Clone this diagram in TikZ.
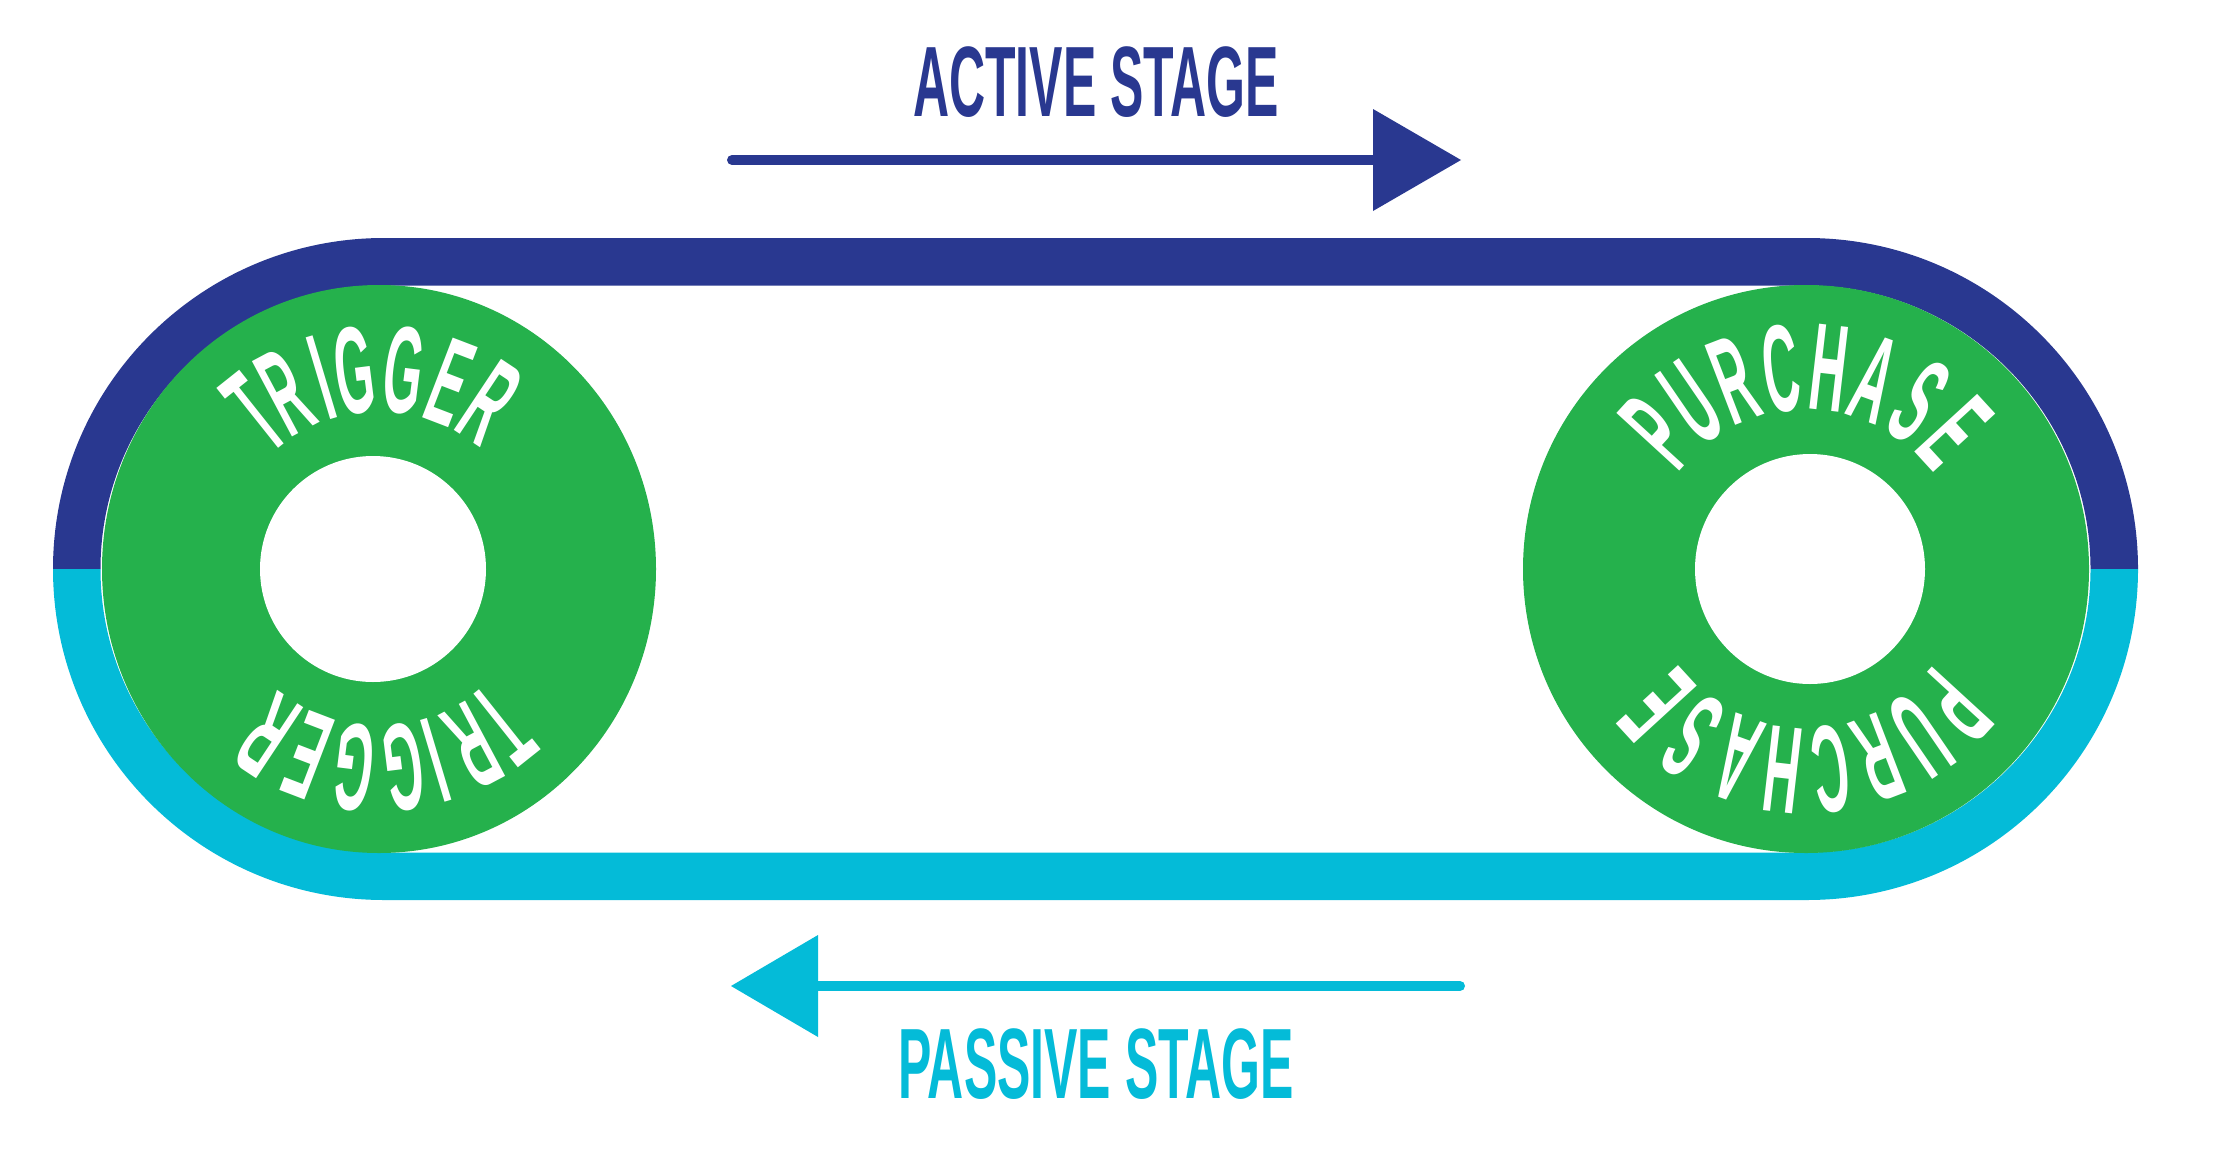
\documentclass[tikz,border=0pt]{standalone}
\usepackage{fontspec}
\usetikzlibrary{calc}
\newfontfamily\stagefont{Liberation Sans}[FakeStretch=0.5]
\newfontfamily\ringfont{Liberation Sans}[FakeStretch=0.4]
\definecolor{beltblue}{RGB}{41,56,144}
\definecolor{beltcyan}{RGB}{4,187,216}
\definecolor{ringgreen}{RGB}{37,177,76}
\tikzset{
  ringletter/.style={text=white, inner sep=0pt, anchor=center,
    font=\ringfont\bfseries\fontsize{124}{124}\selectfont},
  stagelabel/.style={inner sep=0pt, anchor=center,
    font=\stagefont\bfseries\fontsize{100}{100}\selectfont},
  ringdisc/.style={fill=ringgreen},
  hole/.style={fill=white}
}
\begin{document}
\begin{tikzpicture}[x=1pt,y=-1pt]
\useasboundingbox (0,0) rectangle (2227,1175);
\fill[white] (0,0) rectangle (2227,1175);
% belt centres
\coordinate (BL) at (384,569);
\coordinate (BR) at (1807,569);
% upper (active) half of the belt
\fill[beltblue] (53,569) arc[start angle=180,end angle=270,radius=331]
  -- (1807,238) arc[start angle=270,end angle=360,radius=331]
  -- (2090.5,569) arc[start angle=360,end angle=270,radius=283.5]
  -- (384,285.5) arc[start angle=270,end angle=180,radius=283.5] -- cycle;
% lower (passive) half of the belt
\fill[beltcyan] (53,569) arc[start angle=180,end angle=90,radius=331]
  -- (1807,900) arc[start angle=90,end angle=0,radius=331]
  -- (2090.5,569) arc[start angle=0,end angle=90,radius=283.5]
  -- (384,852.5) arc[start angle=90,end angle=180,radius=283.5] -- cycle;
% wheels
\coordinate (TC) at (379,569);
\coordinate (PC) at (1806,569);
\fill[ringdisc] (TC) ellipse[x radius=277, y radius=284];
\fill[hole] (373,569) circle[radius=113];
\fill[ringdisc] (PC) ellipse[x radius=283, y radius=284];
\fill[hole] (1810,569) circle[radius=115];
% TRIGGER letters
\foreach \ch/\a [count=\i] in {T/-38.5,R/-28,I/-16.7,G/-7.1,G/7.1,E/21,R/33.6}{
  \node[ringletter, rotate=-\a] (trigtop\i) at ($(TC)+({200*sin(\a)},{-200*cos(\a)})$) {\ch};
  \node[ringletter, rotate=180-\a] (trigbot\i) at ($(TC)+({-200*sin(\a)},{200*cos(\a)})$) {\ch};
}
% PURCHASE letters
\foreach \ch/\a [count=\i] in {P/-47.5,U/-34.4,R/-21,C/-7,H/6.6,A/19.9,S/34.2,E/47.5}{
  \node[ringletter, rotate=-\a] (purtop\i) at ($(PC)+({202*sin(\a)},{-202*cos(\a)})$) {\ch};
  \node[ringletter, rotate=180-\a] (purbot\i) at ($(PC)+({-202*sin(\a)},{202*cos(\a)})$) {\ch};
}
% active arrow
\coordinate (actstart) at (732,160);
\coordinate (actbase) at (1373,160);
\draw[beltblue, line width=10pt, line cap=round] (actstart) -- (actbase);
\fill[beltblue] (1373,109) -- (1461,160) -- (1373,211) -- cycle;
\node[stagelabel, text=beltblue] (active) at (1096,82) {ACTIVE STAGE};
% passive arrow
\coordinate (passtart) at (1460,986);
\coordinate (pasbase) at (818,986);
\draw[beltcyan, line width=10pt, line cap=round] (passtart) -- (pasbase);
\fill[beltcyan] (818,935) -- (731,986) -- (818,1037) -- cycle;
\node[stagelabel, text=beltcyan] (passive) at (1096,1064) {PASSIVE STAGE};
\end{tikzpicture}
\end{document}
